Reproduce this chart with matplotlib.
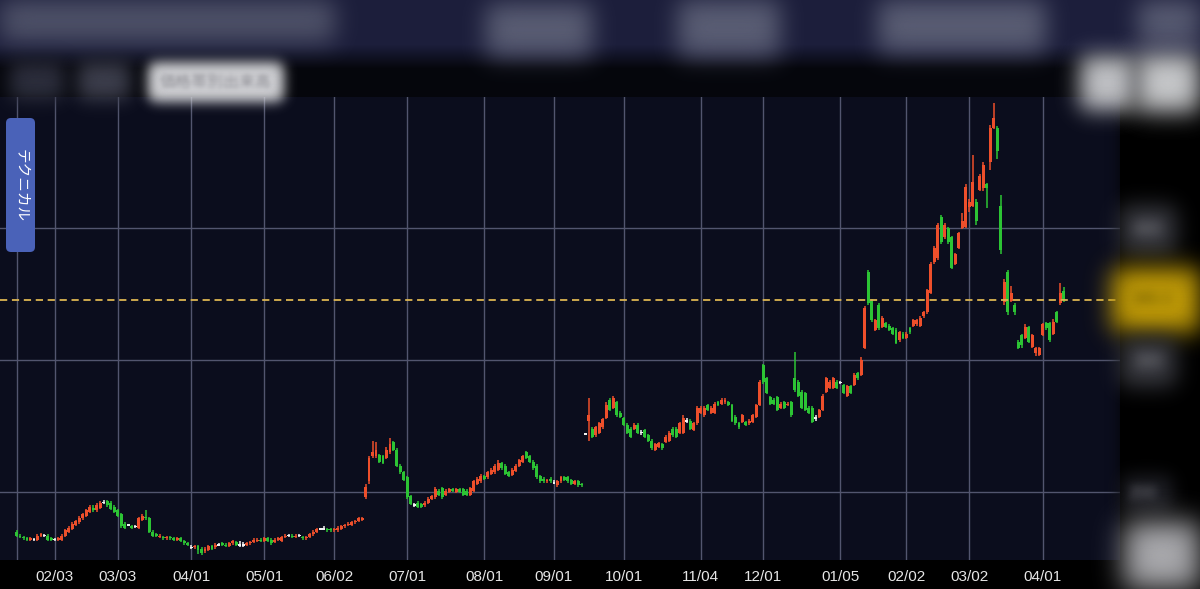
import numpy as np
import matplotlib
matplotlib.use("Agg")
import matplotlib.pyplot as plt
from matplotlib.patches import FancyBboxPatch

plt.rcParams['font.family'] = ['Liberation Sans', 'Noto Sans CJK JP', 'DejaVu Sans']

# daily candles, oldest first (price units; grid lines at 200 / 300 / 400)
opens = [
    170, 167, 166, 165, 164, 164, 164, 167, 167, 167,
    165, 164, 164, 164, 167, 170, 172, 175, 177, 180,
    182, 185, 188, 186, 188, 192, 193, 192, 189, 186,
    183, 176, 175, 174, 174, 173, 179, 181, 180, 170,
    168, 166, 166, 165, 166, 165, 164, 165, 163, 161,
    158, 158, 159, 157, 155, 156, 159, 158, 160, 161,
    160, 159, 161, 162, 160, 160, 160, 161, 162, 163,
    164, 163, 165, 164, 162, 164, 163, 166, 167, 167,
    166, 167, 166, 165, 166, 168, 170, 172, 172, 172,
    172, 171, 171, 172, 174, 175, 175, 177, 178, 179,
    196, 208, 227, 227, 228, 227, 226, 230, 238, 232,
    220, 215, 211, 197, 190, 192, 191, 190, 192, 195,
    196, 201, 203, 198, 200, 202, 200, 202, 202, 201,
    198, 201, 206, 208, 212, 211, 214, 215, 217, 222,
    220, 215, 213, 216, 220, 223, 230, 227, 223, 220,
    212, 210, 208, 210, 207, 205, 208, 211, 211, 209,
    206, 208, 206, 244, 254, 248, 243, 245, 249, 256,
    270, 264, 268, 260, 256, 251, 248, 248, 251, 245,
    247, 243, 239, 232, 234, 236, 238, 239, 248, 248,
    245, 245, 254, 254, 247, 252, 260, 258, 266, 260,
    260, 268, 267, 268, 268, 266, 257, 252, 253, 253,
    252, 253, 257, 266, 296, 286, 272, 270, 272, 264,
    268, 266, 268, 286, 283, 276, 275, 264, 264, 256,
    257, 262, 276, 279, 279, 283, 283, 281, 273, 280,
    281, 290, 289, 309, 367, 345, 323, 342, 325, 328,
    326, 324, 323, 315, 320, 317, 324, 326, 327, 326,
    333, 336, 351, 374, 377, 408, 393, 400, 393, 373,
    385, 400, 401, 416, 417, 420, 429, 430, 433, 450,
    476, 476, 417, 344, 367, 345, 342, 314, 319, 317,
    325, 310, 305, 304, 319, 328, 328, 320, 336, 343,
    352,
]
closes = [
    167, 166, 165, 164, 165, 164, 167, 168, 167, 164,
    164, 164, 165, 167, 171, 173, 176, 178, 180, 183,
    186, 189, 186, 190, 192, 192, 190, 187, 185, 182,
    174, 173, 175, 173, 174, 180, 182, 180, 170, 167,
    167, 167, 165, 166, 165, 164, 165, 163, 161, 160,
    158, 159, 156, 154, 157, 159, 157, 160, 160, 160,
    159, 161, 163, 160, 160, 160, 161, 162, 164, 164,
    163, 165, 163, 161, 164, 165, 166, 167, 167, 166,
    167, 167, 165, 166, 168, 170, 172, 172, 172, 171,
    171, 172, 173, 174, 175, 176, 177, 178, 180, 180,
    204, 226, 230, 232, 223, 222, 232, 236, 232, 220,
    215, 209, 196, 191, 190, 189, 189, 192, 195, 197,
    202, 198, 196, 201, 202, 201, 202, 200, 198, 198,
    203, 208, 210, 212, 210, 215, 217, 220, 222, 218,
    214, 212, 217, 220, 224, 227, 226, 223, 218, 211,
    208, 208, 209, 208, 207, 208, 211, 209, 208, 206,
    208, 205, 205, 244, 258, 242, 249, 252, 255, 266,
    262, 271, 258, 257, 251, 245, 242, 251, 245, 245,
    242, 239, 233, 236, 237, 233, 242, 245, 243, 242,
    252, 256, 254, 248, 252, 264, 264, 264, 262, 264,
    267, 266, 270, 270, 266, 254, 252, 249, 258, 251,
    254, 258, 266, 283, 283, 275, 267, 267, 262, 267,
    264, 267, 258, 277, 273, 264, 262, 260, 253, 256,
    262, 273, 286, 283, 286, 279, 283, 275, 280, 275,
    289, 286, 300, 339, 343, 330, 330, 324, 332, 325,
    323, 320, 313, 321, 317, 320, 321, 330, 330, 332,
    336, 353, 373, 385, 402, 389, 402, 389, 370, 380,
    396, 405, 431, 420, 435, 405, 439, 448, 430, 476,
    483, 458, 383, 359, 336, 351, 336, 309, 311, 325,
    314, 319, 309, 309, 327, 324, 315, 329, 329, 351,
    345.5,
]
highs = [
    171, 168, 167, 166, 166, 165, 168, 169, 168, 168,
    166, 165, 166, 168, 172, 174, 177, 179, 182, 184,
    187, 190, 190, 192, 193, 194, 194, 193, 190, 187,
    184, 177, 176, 175, 175, 181, 183, 186, 181, 171,
    169, 168, 167, 167, 167, 166, 166, 166, 164, 162,
    160, 160, 160, 158, 158, 160, 160, 161, 161, 162,
    161, 162, 164, 163, 163, 162, 162, 163, 165, 165,
    165, 166, 166, 165, 165, 166, 167, 168, 168, 168,
    168, 168, 167, 167, 169, 171, 173, 173, 174, 173,
    173, 173, 174, 175, 176, 177, 178, 179, 181, 181,
    206, 227, 239, 238, 229, 228, 234, 241, 239, 233,
    221, 216, 212, 198, 192, 193, 192, 193, 196, 198,
    204, 202, 204, 202, 203, 203, 203, 203, 203, 202,
    204, 209, 211, 214, 213, 216, 218, 221, 224, 223,
    221, 216, 218, 221, 225, 228, 231, 228, 224, 221,
    213, 211, 210, 211, 209, 209, 212, 212, 212, 210,
    209, 209, 207, 245, 271, 249, 250, 253, 256, 268,
    271, 273, 269, 261, 257, 252, 249, 252, 252, 247,
    248, 244, 240, 237, 238, 237, 243, 246, 249, 249,
    253, 258, 256, 255, 253, 265, 265, 265, 267, 265,
    268, 269, 271, 271, 269, 267, 258, 253, 259, 254,
    255, 259, 267, 285, 297, 287, 273, 271, 273, 268,
    269, 268, 269, 306, 285, 277, 276, 265, 265, 258,
    263, 274, 287, 285, 287, 285, 284, 282, 281, 281,
    290, 291, 302, 341, 368, 346, 331, 343, 333, 329,
    327, 325, 324, 322, 321, 321, 325, 331, 331, 333,
    337, 354, 374, 386, 404, 410, 404, 401, 394, 381,
    397, 411, 433, 422, 455, 422, 441, 450, 434, 478,
    495, 477, 425, 361, 368, 356, 343, 315, 320, 327,
    326, 320, 310, 310, 328, 329, 329, 331, 337, 358,
    355,
]
lows = [
    166, 165, 164, 163, 163, 163, 163, 166, 166, 163,
    163, 163, 163, 163, 166, 169, 171, 174, 176, 179,
    181, 184, 185, 185, 187, 191, 189, 186, 184, 181,
    173, 172, 174, 172, 173, 172, 178, 179, 169, 166,
    166, 165, 164, 164, 164, 163, 163, 162, 160, 159,
    157, 157, 153, 152, 154, 155, 156, 157, 159, 159,
    158, 158, 160, 159, 158, 158, 159, 160, 161, 162,
    162, 162, 162, 160, 161, 163, 162, 165, 166, 165,
    165, 166, 164, 164, 165, 167, 169, 171, 171, 170,
    170, 170, 170, 171, 173, 174, 174, 176, 177, 178,
    195, 206, 226, 226, 222, 221, 225, 229, 231, 219,
    214, 208, 195, 190, 189, 188, 188, 189, 191, 194,
    195, 197, 195, 197, 199, 200, 199, 199, 197, 197,
    197, 200, 205, 207, 209, 210, 213, 214, 216, 217,
    213, 211, 212, 215, 219, 222, 225, 222, 217, 210,
    207, 207, 207, 207, 206, 204, 207, 208, 207, 205,
    205, 204, 204, 243, 239, 241, 242, 244, 248, 255,
    261, 263, 257, 256, 250, 244, 241, 247, 244, 243,
    241, 238, 232, 231, 233, 232, 237, 238, 242, 241,
    244, 244, 252, 247, 246, 251, 259, 257, 261, 259,
    259, 265, 266, 267, 265, 253, 251, 248, 252, 250,
    251, 252, 256, 265, 282, 274, 266, 266, 261, 263,
    263, 265, 257, 276, 272, 263, 261, 259, 252, 254,
    256, 261, 275, 278, 278, 278, 282, 274, 272, 274,
    280, 285, 288, 308, 342, 329, 322, 323, 324, 324,
    322, 319, 312, 314, 316, 316, 320, 325, 326, 325,
    332, 335, 350, 373, 376, 388, 392, 388, 369, 372,
    384, 399, 400, 412, 416, 402, 428, 428, 415, 444,
    475, 452, 380, 342, 334, 344, 334, 308, 309, 316,
    313, 309, 303, 303, 318, 323, 314, 319, 328, 342,
    344,
]

# month ticks: candle index of the first trading day shown for each month
tick_idx = [0, 11, 29, 50, 71, 91, 112, 134, 154, 174, 196, 214, 236, 255, 273, 294]
tick_lab = ['', '02/03', '03/03', '04/01', '05/01', '06/02', '07/01', '08/01',
            '09/01', '10/01', '11/04', '12/01', '01/05', '02/02', '03/02', '04/01']
price_levels = [200, 300, 400]

RED = '#ee4f2b'
GREEN = '#2cc434'
WHITE = '#f2f2f2'
BG = '#0b0d1d'


def gauss(sigma):
    # agg filter: gaussian blur, sigma in pixels
    def filt(im, dpi):
        s = sigma * dpi / 100.0
        r = max(1, int(3 * s))
        k = np.exp(-0.5 * (np.arange(-r, r + 1) / s) ** 2)
        k /= k.sum()
        a = np.pad(im, ((r, r), (r, r), (0, 0))).astype(float)
        a[..., :3] *= a[..., 3:4]
        for axis in (0, 1):
            out = np.zeros_like(a)
            for i, w in enumerate(k):
                out += w * np.roll(a, i - r, axis=axis)
            a = out
        al = a[..., 3:4]
        a[..., :3] = a[..., :3] / np.maximum(al, 1e-6)
        return np.clip(a, 0, 1), -r, -r
    return filt


fig = plt.figure(figsize=(12, 5.89), dpi=100, facecolor='black')

# ---- main candle chart ----
ax = fig.add_axes([0, 29 / 589, 1120 / 1200, 463 / 589])
ax.set_facecolor(BG)
for sp in ax.spines.values():
    sp.set_visible(False)

o = np.array(opens, float)
c = np.array(closes, float)
h = np.array(highs, float)
l = np.array(lows, float)
x = np.arange(len(o))
cols = np.where(c > o, RED, np.where(c < o, GREEN, WHITE))
flat = c == o
body_h = np.where(flat, 1.2, np.abs(c - o))
body_b = np.where(flat, o - 0.6, np.minimum(o, c))

wicks = ax.vlines(x, l, h, colors=cols, lw=1.1, zorder=3)
bodies = ax.bar(x, body_h, bottom=body_b, width=0.84, color=cols, linewidth=0, zorder=4)

ax.axhline(c[-1], color='#dcb552', lw=1.3, ls=(0, (4, 2.6)), zorder=5)

ax.set_xlim(154 - 554 / 3.49, 154 + 566 / 3.49)
ax.set_ylim(148.5, 499.2)
ax.set_xticks(tick_idx)
ax.set_xticklabels(tick_lab)
ax.set_yticks(price_levels)
ax.tick_params(axis='x', length=0, pad=7, labelsize=11, labelcolor='#e6e6e6')
ax.tick_params(axis='y', length=0, labelleft=False)
ax.grid(True, color='#52556e', lw=1.0, zorder=0)
ax.set_axisbelow(True)

# ---- app chrome, in pixel coordinates ----
ov = fig.add_axes([0, 0, 1, 1], zorder=10)
ov.set_xlim(0, 1200)
ov.set_ylim(589, 0)
ov.axis('off')
ov.patch.set_visible(False)

top = np.array([0.110, 0.120, 0.235])
bot = np.array([0.022, 0.025, 0.050])
rows = np.arange(97)
t = np.clip((rows - 44) / 24.0, 0, 1)[:, None]
grad = ((1 - t) * top + t * bot)[:, None, :]
ov.imshow(grad, extent=[0, 1200, 97, 0], aspect='auto', zorder=1)


def blob(x0, y0, w, hh, color, sigma, r=6, z=3):
    p = FancyBboxPatch((x0, y0), w, hh, boxstyle=f"round,pad=0,rounding_size={r}",
                       fc=color, ec='none', zorder=z)
    p.set_agg_filter(gauss(sigma))
    ov.add_patch(p)


def btext(x0, y0, s, color, size, sigma, z=4, **kw):
    tx = ov.text(x0, y0, s, color=color, fontsize=size, ha='center', va='center',
                 zorder=z, **kw)
    tx.set_agg_filter(gauss(sigma))


# right price column
blob(1122, 92, 110, 480, 'black', 7, r=0, z=2)

# header blobs
blob(0, 0, 335, 42, '#4f5269', 12)
blob(486, 4, 106, 52, '#5a5d74', 12)
blob(678, 0, 102, 56, '#5a5d74', 12)
blob(878, 0, 168, 52, '#5a5d74', 12)
blob(1138, 0, 62, 44, '#585b72', 12)

# toolbar
blob(10, 62, 54, 38, '#2c2e3c', 9)
blob(78, 62, 52, 38, '#3c3e4c', 9)
blob(148, 62, 136, 40, '#d2d3d7', 6, r=9)
btext(216, 82, '価格帯別出来高', '#8a8a90', 11.5, 2.2, z=5)
blob(1080, 56, 54, 54, '#c2c3c7', 11)
blob(1136, 54, 64, 58, '#c8c9cc', 12)

# blurred price labels
blob(1120, 206, 56, 48, '#3a3b42', 11)
btext(1148, 230, '400', '#8a8a90', 12, 6)
blob(1112, 268, 92, 64, '#c49e08', 12)
btext(1152, 300, f'{c[-1]:.1f}', '#3a3000', 12, 6)
blob(1120, 338, 56, 48, '#3a3b42', 11)
btext(1148, 362, '300', '#8a8a90', 12, 6)
blob(1122, 476, 50, 36, '#202127', 9)
btext(1142, 494, '200', '#6a6a70', 12, 4)
blob(1124, 522, 80, 72, '#aaaaae', 14)

# left tab
tab = FancyBboxPatch((6, 118), 29, 134, boxstyle="round,pad=0,rounding_size=5",
                     fc='#4a62b8', ec='none', zorder=6)
ov.add_patch(tab)
ov.text(21, 186, 'テクニカル', color='white', fontsize=10.5, rotation=-90,
        ha='center', va='center', zorder=7, family=['Noto Sans CJK JP', 'DejaVu Sans'])

fig.savefig('out.png', dpi=100, facecolor='black')
